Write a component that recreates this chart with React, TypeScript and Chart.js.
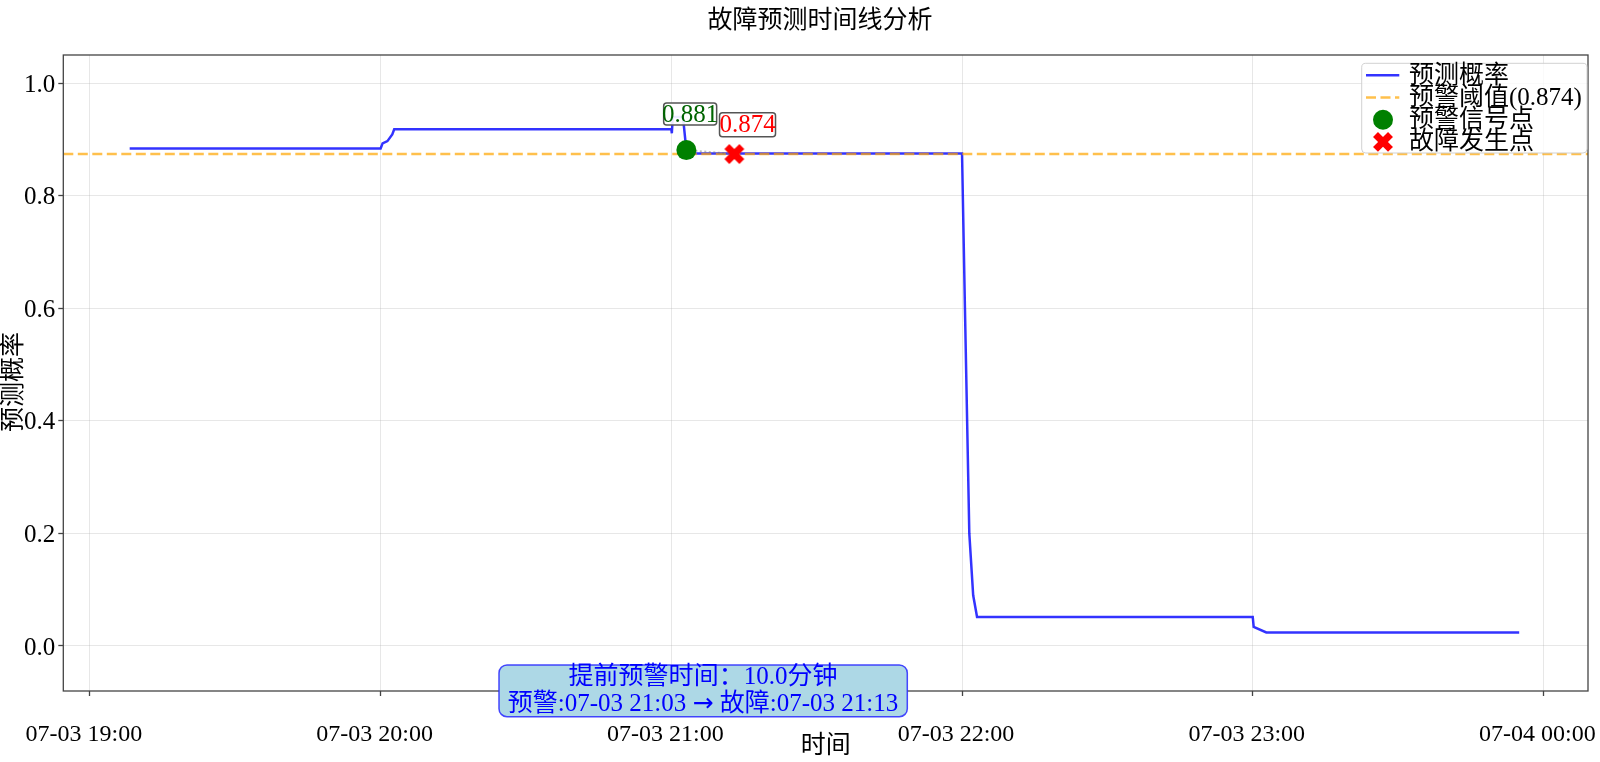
import React, { useEffect, useRef } from 'react';
import { Chart, registerables } from 'chart.js';

Chart.register(...registerables);

const FONT = '"Liberation Serif", "Noto Sans CJK SC", serif';

const TITLE = '故障预测时间线分析';
const X_LABEL = '时间';
const Y_LABEL = '预测概率';

// time in minutes since 07-03 19:00
const PROB_MINUTES = [8.2, 60, 60.4, 61.4, 62.4, 62.8, 120, 120.1, 120.3, 122.4, 123.1, 123.7, 180, 180.6, 181.5, 182.3, 183.1, 240, 240.2, 242.8, 295];
const PROB_VALUES = [0.884, 0.884, 0.893, 0.897, 0.909, 0.918, 0.918, 0.911, 0.94, 0.94, 0.881, 0.875, 0.875, 0.6, 0.2, 0.09, 0.0515, 0.0515, 0.034, 0.024, 0.024];

const THRESHOLD = 0.874;
const WARN_MINUTES = [123.1];
const WARN_VALUES = [0.881];
const FAULT_MINUTES = [133];
const FAULT_VALUES = [0.874];

const X_MIN = -5.5;
const X_MAX = 309.2;
const Y_MIN = -0.08;
const Y_MAX = 1.05;

const X_TICK_MINUTES = [0, 60, 120, 180, 240, 300];
const X_TICK_LABELS = ['07-03 19:00', '07-03 20:00', '07-03 21:00', '07-03 22:00', '07-03 23:00', '07-04 00:00'];
const Y_TICKS = [0, 0.2, 0.4, 0.6, 0.8, 1.0];

const INFO_LINES = ['提前预警时间：10.0分钟', '预警:07-03 21:03 → 故障:07-03 21:13'];

function xPath(ctx: CanvasRenderingContext2D, cx: number, cy: number, a: number, w: number) {
  const pts: [number, number][] = [
    [-w, -a], [w, -a], [w, -w], [a, -w], [a, w], [w, w], [w, a], [-w, a], [-w, w], [-a, w], [-a, -w], [-w, -w],
  ];
  const c = Math.cos(Math.PI / 4);
  const s = Math.sin(Math.PI / 4);
  ctx.beginPath();
  pts.forEach(([px, py], i) => {
    const rx = px * c - py * s + cx;
    const ry = px * s + py * c + cy;
    if (i === 0) ctx.moveTo(rx, ry);
    else ctx.lineTo(rx, ry);
  });
  ctx.closePath();
}

function makeXMarker(color: string) {
  const c = document.createElement('canvas');
  c.width = 24;
  c.height = 24;
  const ctx = c.getContext('2d')!;
  ctx.fillStyle = color;
  xPath(ctx, 12, 12, 10.6, 3.5);
  ctx.fill();
  return c;
}

function roundRect(ctx: CanvasRenderingContext2D, x: number, y: number, w: number, h: number, r: number) {
  ctx.beginPath();
  ctx.moveTo(x + r, y);
  ctx.lineTo(x + w - r, y);
  ctx.arcTo(x + w, y, x + w, y + r, r);
  ctx.lineTo(x + w, y + h - r);
  ctx.arcTo(x + w, y + h, x + w - r, y + h, r);
  ctx.lineTo(x + r, y + h);
  ctx.arcTo(x, y + h, x, y + h - r, r);
  ctx.lineTo(x, y + r);
  ctx.arcTo(x, y, x + r, y, r);
  ctx.closePath();
}

// draws text centered at cx, using a bigger-glyph font for the arrow
function drawMixedCentered(ctx: CanvasRenderingContext2D, text: string, cx: number, cy: number, size: number) {
  const parts = text.split('→');
  const mainFont = `${size}px ${FONT}`;
  const arrowFont = `${size}px "DejaVu Sans", ${FONT}`;
  const segs: { s: string; f: string }[] = [];
  parts.forEach((p, i) => {
    if (i > 0) segs.push({ s: '→', f: arrowFont });
    segs.push({ s: p, f: mainFont });
  });
  let total = 0;
  segs.forEach((sg) => { ctx.font = sg.f; total += ctx.measureText(sg.s).width; });
  let x = cx - total / 2;
  ctx.textAlign = 'left';
  segs.forEach((sg) => {
    ctx.font = sg.f;
    ctx.fillText(sg.s, x, cy);
    x += ctx.measureText(sg.s).width;
  });
}

export default function App() {
  const ref = useRef<HTMLCanvasElement>(null);

  useEffect(() => {
    const canvas = ref.current!;
    const xMarker = makeXMarker('red');

    const bgPlugin = {
      id: 'bg',
      beforeDraw(chart: any) {
        const ctx = chart.ctx;
        ctx.save();
        ctx.fillStyle = '#ffffff';
        ctx.fillRect(0, 0, chart.width, chart.height);
        ctx.restore();
      },
    };

    const decoPlugin = {
      id: 'deco',
      afterDatasetsDraw(chart: any) {
        const ctx = chart.ctx;
        const a = chart.chartArea;
        const xs = chart.scales.x;
        const ys = chart.scales.y;
        ctx.save();
        ctx.strokeStyle = '#444';
        ctx.lineWidth = 1.3;
        ctx.strokeRect(a.left, a.top, a.right - a.left, a.bottom - a.top);

        const drawTag = (t: number, v: number, text: string, color: string, dx: number, dy: number, w: number, h: number, fs: number) => {
          const cx = xs.getPixelForValue(t) + dx;
          const cy = ys.getPixelForValue(v) + dy;
          roundRect(ctx, cx - w / 2, cy - h / 2, w, h, 3);
          ctx.fillStyle = 'rgba(255,255,255,0.9)';
          ctx.fill();
          ctx.strokeStyle = '#555';
          ctx.lineWidth = 1.5;
          ctx.stroke();
          ctx.fillStyle = color;
          ctx.font = `${fs}px ${FONT}`;
          ctx.textAlign = 'center';
          ctx.textBaseline = 'middle';
          ctx.fillText(text, cx, cy + 1);
        };
        drawTag(WARN_MINUTES[0], WARN_VALUES[0], WARN_VALUES[0].toFixed(3), '#006400', 3.8, -36, 53, 22, 25);
        drawTag(FAULT_MINUTES[0], FAULT_VALUES[0], FAULT_VALUES[0].toFixed(3), '#ff0000', 13.2, -29.3, 56, 24, 25);
        ctx.restore();
      },
      afterDraw(chart: any) {
        const ctx = chart.ctx;
        const a = chart.chartArea;
        ctx.save();
        ctx.fillStyle = '#000';
        ctx.textAlign = 'center';
        ctx.textBaseline = 'middle';
        ctx.font = `25px ${FONT}`;
        ctx.fillText(TITLE, 820, 21);
        ctx.fillText(X_LABEL, (a.left + a.right) / 2, 746);
        ctx.save();
        ctx.translate(14, 382);
        ctx.rotate(-Math.PI / 2);
        ctx.fillText(Y_LABEL, 0, 0);
        ctx.restore();

        // legend
        const lx1 = 1361.7, ly1 = 63.3, lx2 = 1587, ly2 = 153;
        roundRect(ctx, lx1, ly1, lx2 - lx1, ly2 - ly1, 4);
        ctx.fillStyle = 'rgba(255,255,255,0.8)';
        ctx.fill();
        ctx.strokeStyle = 'rgba(204,204,204,0.9)';
        ctx.lineWidth = 1;
        ctx.stroke();
        const items = chart.data.datasets.filter((d: any) => !String(d.label).startsWith('_'));
        items.forEach((d: any, i: number) => {
          const cy = 75.3 + i * 22.2;
          if (d.showLine === false) {
            if (d.pointStyle && typeof d.pointStyle !== 'string') {
              ctx.fillStyle = 'red';
              xPath(ctx, 1383, cy, 10.6, 3.5);
              ctx.fill();
            } else {
              ctx.beginPath();
              ctx.arc(1383, cy, 10, 0, Math.PI * 2);
              ctx.fillStyle = d.pointBackgroundColor;
              ctx.fill();
            }
          } else {
            ctx.beginPath();
            ctx.setLineDash(d.borderDash || []);
            ctx.strokeStyle = d.borderColor;
            ctx.lineWidth = d.borderWidth;
            ctx.moveTo(1366, cy);
            ctx.lineTo(1399.3, cy);
            ctx.stroke();
            ctx.setLineDash([]);
          }
          ctx.fillStyle = '#000';
          ctx.textAlign = 'left';
          ctx.font = `25px ${FONT}`;
          ctx.fillText(d.label, 1409, cy + 1);
        });

        // info box
        roundRect(ctx, 499, 665, 408.3, 51.7, 8);
        ctx.fillStyle = 'rgba(173,216,230,1)';
        ctx.fill();
        ctx.strokeStyle = 'rgba(40,40,255,0.85)';
        ctx.lineWidth = 1.5;
        ctx.stroke();
        ctx.fillStyle = '#0000ff';
        ctx.textAlign = 'center';
        ctx.font = `25px ${FONT}`;
        ctx.fillText(INFO_LINES[0], 703, 677);
        drawMixedCentered(ctx, INFO_LINES[1], 703, 704, 25);
        ctx.restore();
      },
    };

    const chart = new Chart(canvas, {
      type: 'line',
      data: {
        datasets: [
          {
            label: '预测概率',
            data: PROB_MINUTES.map((t, i) => ({ x: t, y: PROB_VALUES[i] })),
            borderColor: 'rgba(0,0,255,0.8)',
            borderWidth: 2.5,
            pointRadius: 0,
            tension: 0,
            fill: false,
            order: 4,
          },
          {
            label: `预警阈值(${THRESHOLD})`,
            data: [{ x: X_MIN, y: THRESHOLD }, { x: X_MAX, y: THRESHOLD }],
            borderColor: 'rgba(255,165,0,0.7)',
            borderDash: [10, 4.5],
            borderWidth: 2.5,
            pointRadius: 0,
            fill: false,
            order: 3,
          },
          {
            label: '_link',
            data: [
              { x: WARN_MINUTES[0], y: WARN_VALUES[0] },
              { x: FAULT_MINUTES[0], y: FAULT_VALUES[0] },
            ],
            borderColor: 'rgba(120,120,120,0.5)',
            borderDash: [2, 2.5],
            borderWidth: 2,
            pointRadius: 0,
            fill: false,
            order: 2,
          },
          {
            label: '预警信号点',
            data: WARN_MINUTES.map((t, i) => ({ x: t, y: WARN_VALUES[i] })),
            showLine: false,
            pointRadius: 10,
            pointBackgroundColor: 'green',
            pointBorderWidth: 0,
            order: 1,
          },
          {
            label: '故障发生点',
            data: FAULT_MINUTES.map((t, i) => ({ x: t, y: FAULT_VALUES[i] })),
            showLine: false,
            pointStyle: xMarker,
            pointRadius: 11,
            order: 0,
          },
        ] as any,
      },
      options: {
        animation: false,
        responsive: true,
        maintainAspectRatio: false,
        events: [],
        layout: { padding: { top: 55, right: 8.3, left: 0, bottom: 0 } },
        plugins: {
          legend: { display: false },
          title: { display: false },
          tooltip: { enabled: false },
        },
        scales: {
          x: {
            type: 'linear',
            min: X_MIN,
            max: X_MAX,
            afterFit: (s: any) => { s.height = 71; s.paddingLeft = 0; s.paddingRight = 0; },
            afterBuildTicks: (s: any) => { s.ticks = X_TICK_MINUTES.map((v) => ({ value: v })); },
            ticks: {
              callback: (v: any) => X_TICK_LABELS[X_TICK_MINUTES.indexOf(Number(v))],
              font: { family: FONT, size: 24 },
              color: '#000',
              padding: 24,
              labelOffset: -6,
              maxRotation: 0,
              autoSkip: false,
            },
            grid: { color: 'rgba(176,176,176,0.3)', lineWidth: 1, tickColor: '#444', tickLength: 5, tickWidth: 1.3 },
            border: { display: false },
          },
          y: {
            type: 'linear',
            min: Y_MIN,
            max: Y_MAX,
            afterFit: (s: any) => { s.width = 63.3; s.paddingTop = 0; s.paddingBottom = 0; },
            afterBuildTicks: (s: any) => { s.ticks = Y_TICKS.map((v) => ({ value: v })); },
            ticks: {
              callback: (v: any) => Number(v).toFixed(1),
              font: { family: FONT, size: 25 },
              color: '#000',
              padding: 3,
              labelOffset: 2,
            },
            grid: { color: 'rgba(176,176,176,0.3)', lineWidth: 1, tickColor: '#444', tickLength: 5, tickWidth: 1.3 },
            border: { display: false },
          },
        },
      } as any,
      plugins: [bgPlugin, decoPlugin],
    });

    return () => chart.destroy();
  }, []);

  return (
    <div style={{ position: 'fixed', left: 0, top: 0, width: 1600, height: 762 }}>
      <canvas ref={ref} />
    </div>
  );
}
